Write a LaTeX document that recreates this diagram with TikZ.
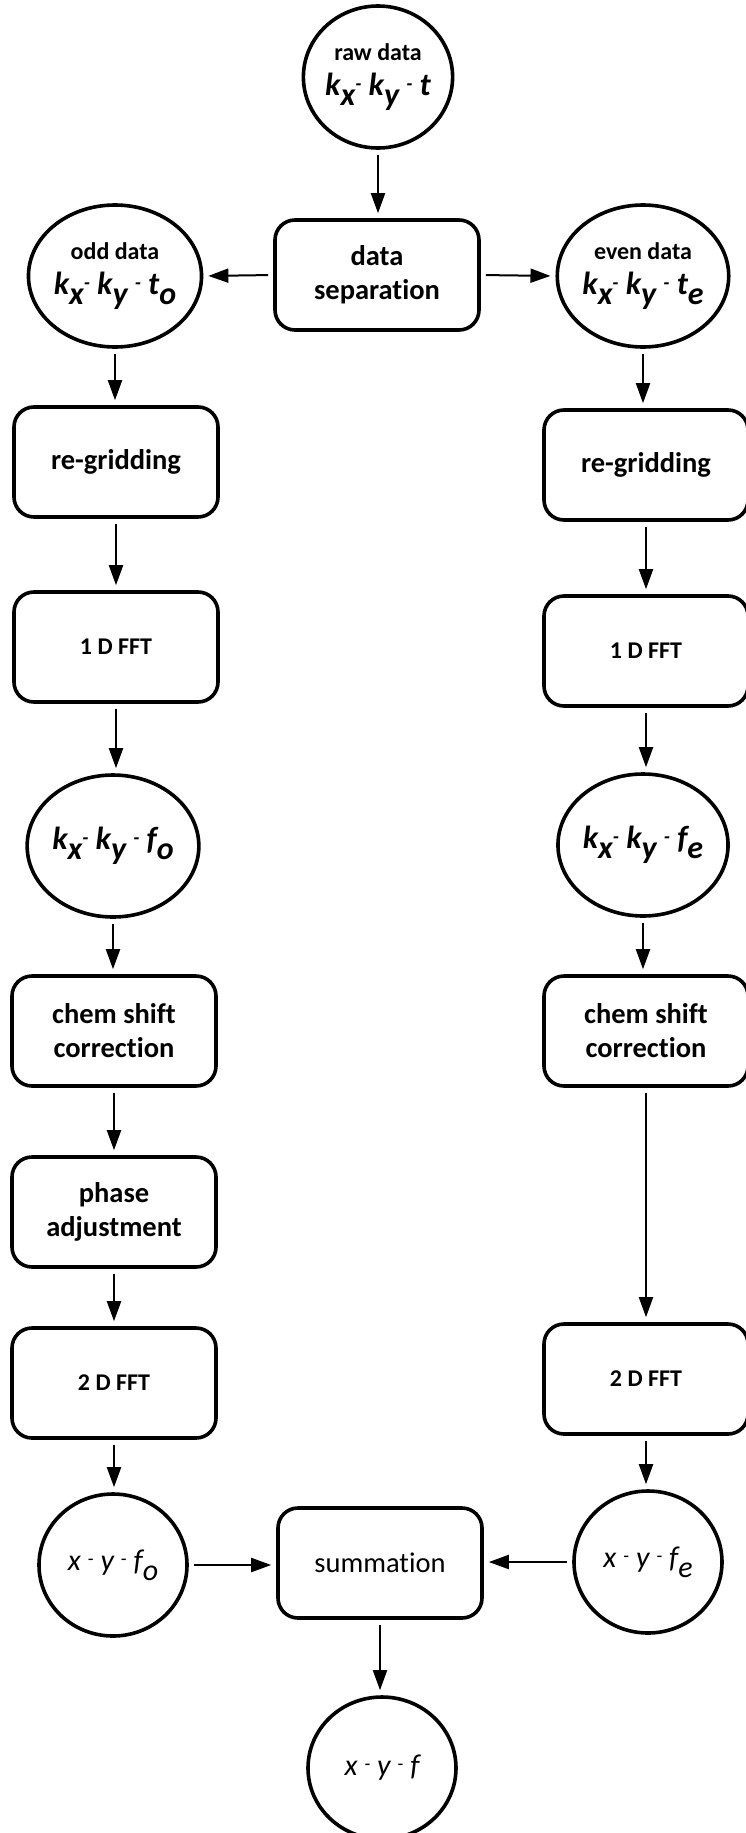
\documentclass[tikz,border=0pt]{standalone}
\usepackage{fontspec}
\setmainfont{Carlito}[Ligatures=NoCommon]
\usetikzlibrary{shapes.geometric,arrows.meta}
\newcommand\lo[1]{\raisebox{-0.32em}{#1}}
\newcommand\hy{{\fontsize{20}{20}\selectfont\raisebox{0.25em}{-}}}
\newcommand\kk[1]{{\fontsize{32}{32}\selectfont\bfseries\itshape #1}}
\newcommand\xx[1]{{\fontsize{30}{30}\selectfont\itshape #1}}
\newcommand\sm[1]{{\fontsize{24}{28}\selectfont\bfseries #1}}
\newcommand\ti{t\kern0pt i}
\begin{document}
\begin{tikzpicture}[x=1pt,y=-1pt,
 box/.style={draw, line width=3.6pt, rounded corners=20pt, minimum width=204pt, minimum height=110pt, align=center, inner sep=2pt, font=\fontsize{28.5}{34}\selectfont\bfseries},
 fftbox/.style={box, font=\fontsize{24}{28}\selectfont\bfseries},
 sumbox/.style={box, font=\fontsize{28.5}{34}\selectfont},
 circ/.style={draw, ellipse, line width=3.6pt, minimum width=148pt, minimum height=142pt, inner sep=0pt, align=center, font=\fontsize{24}{35}\selectfont},
 arr/.style={-{Triangle[length=20pt,width=14pt]}, line width=2pt, shorten <=5pt, shorten >=5pt},
 ]
\useasboundingbox (0,0) rectangle (745,1833);
% top
\node[circ] (raw) at (378,77) {\sm{raw data}\\\kk{k\lo{x}\hy\ k\lo{y}\ \hy\ t}};
\node[box] (sep) at (377,275) {data\\separa\ti on};
\node[circ] (odd) at (115,276) {\sm{odd data}\\\kk{k\lo{x}\hy\ k\lo{y}\ \hy\ t\lo{o}}};
\node[circ] (even) at (643,276) {\sm{even data}\\\kk{k\lo{x}\hy\ k\lo{y}\ \hy\ t\lo{e}}};
% left column
\node[box] (rgL) at (116,462) {re-gridding};
\node[fftbox] (f1L) at (116,647) {1 D FFT};
\node[circ] (kfL) at (113,846) {\kk{k\lo{x}\hy\ k\lo{y}\ \hy\ f\lo{o}}};
\node[box] (chL) at (114,1031) {chem shift\\correc\ti on};
\node[box] (ph) at (114,1212) {phase\\adjustment};
\node[fftbox] (f2L) at (114,1383) {2 D FFT};
\node[circ] (xyo) at (113,1565) {\xx{x\ \hy\ y\ \hy\ f\lo{o}}};
% right column
\node[box] (rgR) at (646,465) {re-gridding};
\node[fftbox] (f1R) at (646,651) {1 D FFT};
\node[circ] (kfR) at (643,845) {\kk{k\lo{x}\hy\ k\lo{y}\ \hy\ f\lo{e}}};
\node[box] (chR) at (646,1031) {chem shift\\correc\ti on};
\node[fftbox] (f2R) at (646,1379) {2 D FFT};
\node[circ] (xye) at (648,1562) {\xx{x\ \hy\ y\ \hy\ f\lo{e}}};
% bottom
\node[sumbox] (sum) at (380,1563) {summa\ti on};
\node[circ] (xyf) at (382,1768) {\xx{x\ \hy\ y\ \hy\ f}};
% connectors
\draw[arr] (raw.south) -- (raw.south |- sep.north);
\draw[arr] (sep.west) -- (odd.east);
\draw[arr] (sep.east) -- (even.west);
\draw[arr] (odd.south) -- (odd.south |- rgL.north);
\draw[arr] (rgL.south) -- (rgL.south |- f1L.north);
\draw[arr] (f1L.south) -- (f1L.south |- kfL.north);
\draw[arr] (kfL.south) -- (kfL.south |- chL.north);
\draw[arr] (chL.south) -- (chL.south |- ph.north);
\draw[arr] (ph.south) -- (ph.south |- f2L.north);
\draw[arr] (f2L.south) -- (f2L.south |- xyo.north);
\draw[arr] (even.south) -- (even.south |- rgR.north);
\draw[arr] (rgR.south) -- (rgR.south |- f1R.north);
\draw[arr] (f1R.south) -- (f1R.south |- kfR.north);
\draw[arr] (kfR.south) -- (kfR.south |- chR.north);
\draw[arr] (chR.south) -- (chR.south |- f2R.north);
\draw[arr] (f2R.south) -- (f2R.south |- xye.north);
\draw[arr] (xyo.east) -- (xyo.east -| sum.west);
\draw[arr] (xye.west) -- (xye.west -| sum.east);
\draw[arr] (sum.south) -- (sum.south |- xyf.north);
\end{tikzpicture}
\end{document}
